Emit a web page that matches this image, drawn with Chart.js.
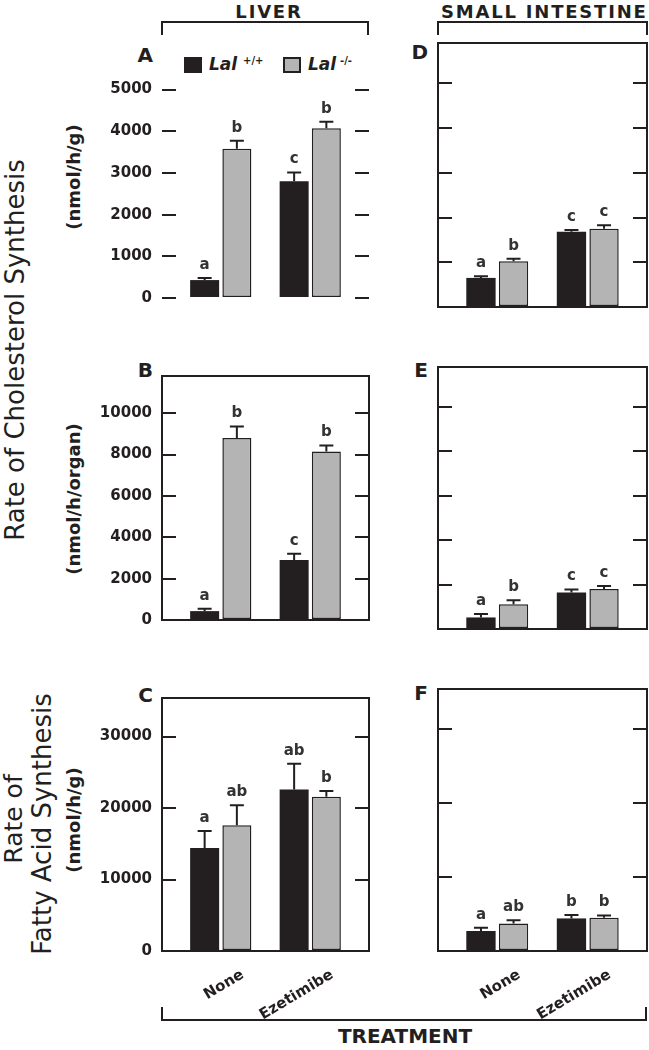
<!DOCTYPE html>
<html>
<head>
<meta charset="utf-8">
<script src="https://cdn.jsdelivr.net/npm/chart.js@4.4.1/dist/chart.umd.min.js"></script>
<style>
  html, body { margin: 0; padding: 0; background: #fff; }
  body { width: 649px; height: 1050px; position: relative; overflow: hidden; font-family: "DejaVu Sans", sans-serif; color: #231f20; }
  canvas { position: absolute; }
  .t { position: absolute; white-space: nowrap; line-height: 1; }
  .b { font-weight: bold; }
  .rot { transform: translate(-50%, -50%) rotate(-90deg); }
  .letter { font-weight: bold; font-size: 20px; transform: translateX(-100%); }
  .bracket { position: absolute; box-sizing: border-box; border: 0 solid #231f20; }
  .sq { position: absolute; box-sizing: border-box; width: 18px; height: 16px; }
</style>
</head>
<body>
<!-- column headers and brackets -->
<div class="t b" style="left:269px; top:3px; font-size:18px; letter-spacing:1.8px; transform:translateX(-50%)">LIVER</div>
<div class="t b" style="left:441px; top:3px; font-size:18px; letter-spacing:1.8px">SMALL INTESTINE</div>
<div class="bracket" style="left:161px; top:21px; width:208px; height:14px; border-width:2px 2px 0 2px"></div>
<div class="bracket" style="left:437px; top:21px; width:211px; height:14px; border-width:2px 2px 0 2px"></div>
<div class="bracket" style="left:161px; top:1007px; width:486px; height:14px; border-width:0 2px 2px 2px"></div>
<div class="t b" style="left:405px; top:1026px; font-size:20px; transform:translateX(-50%)">TREATMENT</div>

<!-- y titles -->
<div class="t rot" style="left:15px; top:350px; font-size:26px">Rate of Cholesterol Synthesis</div>
<div class="t rot b" style="left:74px; top:177px; font-size:18px">(nmol/h/g)</div>
<div class="t rot b" style="left:74px; top:499px; font-size:18px">(nmol/h/organ)</div>
<div class="t rot" style="left:13px; top:819px; font-size:25px">Rate of</div>
<div class="t rot" style="left:42px; top:824px; font-size:26px">Fatty Acid Synthesis</div>
<div class="t rot b" style="left:74px; top:820px; font-size:18px">(nmol/h/g)</div>

<!-- panel letters -->
<div class="t letter" style="left:153px; top:45px">A</div>
<div class="t letter" style="left:153px; top:360px">B</div>
<div class="t letter" style="left:153px; top:685px">C</div>
<div class="t letter" style="left:428px; top:42px">D</div>
<div class="t letter" style="left:428px; top:360px">E</div>
<div class="t letter" style="left:428px; top:683px">F</div>

<!-- legend -->
<div class="sq" style="left:184px; top:57px; background:#231f20"></div>
<div class="t b" style="left:209px; top:56px; font-size:17px; font-style:italic">Lal</div>
<div class="t b" style="left:243px; top:56px; font-size:10px">+/+</div>
<div class="sq" style="left:283px; top:57px; background:#b4b4b4; border:2px solid #231f20"></div>
<div class="t b" style="left:308px; top:56px; font-size:17px; font-style:italic">Lal</div>
<div class="t b" style="left:340px; top:56px; font-size:10px">-/-</div>

<canvas id="pA" width="372" height="284" style="left:0; top:33px"></canvas>
<canvas id="pB" width="372" height="282" style="left:0; top:357px"></canvas>
<canvas id="pC" width="372" height="362" style="left:0; top:679px"></canvas>
<canvas id="pD" width="269" height="284" style="left:380px; top:33px"></canvas>
<canvas id="pE" width="269" height="282" style="left:380px; top:357px"></canvas>
<canvas id="pF" width="269" height="362" style="left:380px; top:679px"></canvas>

<script>
const treatments = ["None", "Ezetimibe"];
const genotypes = ["Lal +/+", "Lal -/-"];

// A: liver cholesterol synthesis (nmol/h/g)
const liverGramWT = [430, 2800];
const liverGramWTErr = [50, 210];
const liverGramKO = [3580, 4070];
const liverGramKOErr = [190, 160];
const liverGramSig = [["a", "c"], ["b", "b"]];

// B: liver cholesterol synthesis (nmol/h/organ)
const liverOrganWT = [430, 2900];
const liverOrganWTErr = [110, 300];
const liverOrganKO = [8800, 8150];
const liverOrganKOErr = [560, 290];
const liverOrganSig = [["a", "c"], ["b", "b"]];

// C: liver fatty acid synthesis (nmol/h/g)
const liverFaWT = [14400, 22600];
const liverFaWTErr = [2400, 3600];
const liverFaKO = [17600, 21600];
const liverFaKOErr = [2800, 800];
const liverFaSig = [["a", "ab"], ["ab", "b"]];

// D: small intestine cholesterol synthesis (nmol/h/g)
const siGramWT = [650, 1680];
const siGramWTErr = [40, 40];
const siGramKO = [1020, 1750];
const siGramKOErr = [60, 75];
const siGramSig = [["a", "c"], ["b", "c"]];

// E: small intestine cholesterol synthesis (nmol/h/organ)
const siOrganWT = [520, 1640];
const siOrganWTErr = [150, 140];
const siOrganKO = [1120, 1800];
const siOrganKOErr = [180, 140];
const siOrganSig = [["a", "c"], ["b", "c"]];

// F: small intestine fatty acid synthesis (nmol/h/g)
const siFaWT = [2700, 4400];
const siFaWTErr = [450, 450];
const siFaKO = [3700, 4500];
const siFaKOErr = [450, 300];
const siFaSig = [["a", "b"], ["ab", "b"]];

const ticksGram = [0, 1000, 2000, 3000, 4000, 5000];
const ticksOrgan = [0, 2000, 4000, 6000, 8000, 10000];
const ticksFa = [0, 10000, 20000, 30000];

const INK = "#231f20";
const GRAY = "#b4b4b4";
const TICK = 14;

Chart.defaults.font.family = "'DejaVu Sans', sans-serif";
Chart.defaults.font.weight = "bold";
Chart.defaults.color = INK;

// box drawn around the plot, outside the chart area by the tick length
const frame = {
  id: "frame",
  afterDraw(chart, args, opts) {
    if (!opts.show) return;
    const { left, right, top, bottom } = chart.chartArea;
    const ctx = chart.ctx;
    ctx.save();
    ctx.strokeStyle = INK;
    ctx.lineWidth = 2;
    ctx.strokeRect(left - TICK, top, right - left + 2 * TICK, bottom - top);
    ctx.restore();
  },
};

// one-sided SEM bars and the significance letters
const errorBars = {
  id: "errorBars",
  afterDatasetsDraw(chart) {
    const ctx = chart.ctx;
    const y = chart.scales.y;
    ctx.save();
    chart.data.datasets.forEach((ds, i) => {
      chart.getDatasetMeta(i).data.forEach((bar, j) => {
        const top = y.getPixelForValue(ds.data[j] + ds.err[j]);
        ctx.strokeStyle = INK;
        ctx.lineWidth = 2;
        ctx.beginPath();
        ctx.moveTo(bar.x, bar.y);
        ctx.lineTo(bar.x, top);
        ctx.moveTo(bar.x - 7, top);
        ctx.lineTo(bar.x + 7, top);
        ctx.stroke();
        ctx.fillStyle = "#333";
        ctx.font = "bold 15px 'DejaVu Sans'";
        ctx.textAlign = "center";
        ctx.textBaseline = "alphabetic";
        ctx.fillText(ds.sig[j], bar.x, top - 9);
      });
    });
    ctx.restore();
  },
};

function panel(id, o) {
  const left = o.col === 0;
  const axisGrid = { drawOnChartArea: false, color: INK, lineWidth: 2, tickLength: TICK };
  new Chart(document.getElementById(id), {
    type: "bar",
    data: {
      labels: treatments,
      datasets: [
        { label: genotypes[0], data: o.wt, err: o.wtErr, sig: o.sig[0],
          backgroundColor: INK, borderColor: INK, borderWidth: 0 },
        { label: genotypes[1], data: o.ko, err: o.koErr, sig: o.sig[1],
          backgroundColor: GRAY, borderColor: INK, borderWidth: 1.5 },
      ],
    },
    options: {
      responsive: false,
      animation: false,
      layout: { padding: { top: 10, bottom: 10, left: 0, right: 0 } },
      datasets: {
        bar: { categoryPercentage: 0.72, barPercentage: 0.9, borderSkipped: false },
      },
      scales: {
        x: {
          grid: { display: false },
          border: { display: false },
          ticks: {
            display: !!o.xLabels,
            font: { size: 15 },
            minRotation: 31,
            maxRotation: 31,
            padding: 7,
            labelOffset: 22,
          },
          afterFit: (s) => { s.height = o.xLabels ? 80 : 0; },
        },
        y: {
          min: 0,
          max: o.max,
          grid: axisGrid,
          border: { display: false },
          ticks: { display: left, font: { size: 15 }, padding: 10, callback: (v) => String(v) },
          afterBuildTicks: (s) => { s.ticks = o.ticks.map((v) => ({ value: v })); },
          afterFit: (s) => { s.width = left ? 176 : 72; },
        },
        y2: {
          position: "right",
          min: 0,
          max: o.max,
          grid: axisGrid,
          border: { display: false },
          ticks: { display: false },
          afterBuildTicks: (s) => { s.ticks = o.ticks.map((v) => ({ value: v })); },
          afterFit: (s) => { s.width = left ? 17 : 16; },
        },
      },
      plugins: {
        legend: { display: false },
        tooltip: { enabled: false },
        frame: { show: o.frame },
      },
    },
    plugins: [frame, errorBars],
  });
}

panel("pA", { col: 0, frame: false, max: 5900, ticks: ticksGram,
  wt: liverGramWT, wtErr: liverGramWTErr, ko: liverGramKO, koErr: liverGramKOErr, sig: liverGramSig });
panel("pB", { col: 0, frame: true, max: 11800, ticks: ticksOrgan,
  wt: liverOrganWT, wtErr: liverOrganWTErr, ko: liverOrganKO, koErr: liverOrganKOErr, sig: liverOrganSig });
panel("pC", { col: 0, frame: true, max: 35400, ticks: ticksFa, xLabels: true,
  wt: liverFaWT, wtErr: liverFaWTErr, ko: liverFaKO, koErr: liverFaKOErr, sig: liverFaSig });
panel("pD", { col: 1, frame: true, max: 5900, ticks: ticksGram,
  wt: siGramWT, wtErr: siGramWTErr, ko: siGramKO, koErr: siGramKOErr, sig: siGramSig });
panel("pE", { col: 1, frame: true, max: 11800, ticks: ticksOrgan,
  wt: siOrganWT, wtErr: siOrganWTErr, ko: siOrganKO, koErr: siOrganKOErr, sig: siOrganSig });
panel("pF", { col: 1, frame: true, max: 35400, ticks: ticksFa, xLabels: true,
  wt: siFaWT, wtErr: siFaWTErr, ko: siFaKO, koErr: siFaKOErr, sig: siFaSig });
</script>
</body>
</html>
